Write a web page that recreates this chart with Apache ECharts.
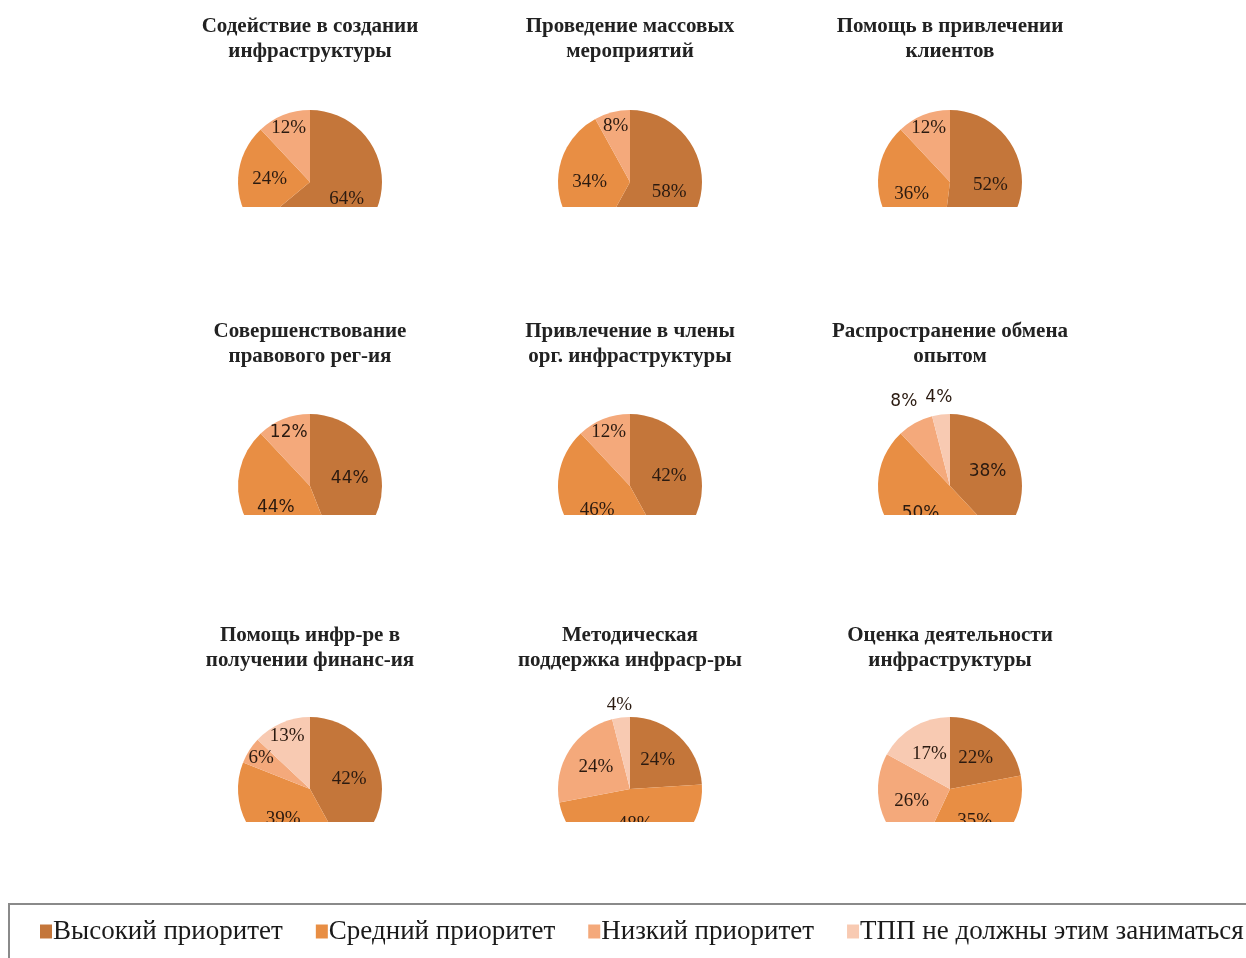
<!DOCTYPE html>
<html><head><meta charset="utf-8">
<script src="https://cdn.jsdelivr.net/npm/echarts@6/dist/echarts.min.js"></script>
<style>html,body{margin:0;padding:0;background:#fff}#c{width:1246px;height:958px}</style>
</head><body><div id="c"></div>
<script>
const categories = ['Высокий приоритет','Средний приоритет','Низкий приоритет','ТПП не должны этим заниматься'];
const titles = [
  'Содействие в создании\nинфраструктуры',
  'Проведение массовых\nмероприятий',
  'Помощь в привлечении\nклиентов',
  'Совершенствование\nправового рег-ия',
  'Привлечение в члены\nорг. инфраструктуры',
  'Распространение обмена\nопытом',
  'Помощь инфр-ре в\nполучении финанс-ия',
  'Методическая\nподдержка инфрасchallenge'.replace('challenge', 'р-ры'),
  'Оценка деятельности\nинфраструктуры'
];
const high   = [64, 58, 52, 44, 42, 38, 42, 24, 22];
const medium = [24, 34, 36, 44, 46, 50, 39, 48, 35];
const low    = [12,  8, 12, 12, 12,  8,  6, 24, 26];
const tpp    = [ 0,  0,  0,  0,  0,  4, 13,  4, 17];

const colors = ['#C4763A', '#E88E44', '#F4A97B', '#F8CAB2'];
const colX = [310, 630, 950];
const rowY = [182, 486, 789];
const clipY = [207, 515, 822];
const titleTop = [14, 319, 623];
const R = 72;
const outsideLabels = {5: {2: 1.29, 3: 1.2}, 7: {3: 1.13}};
const sansCharts = [3, 5];

const series = [], titleList = [];
const allVals = [high, medium, low, tpp];
for (let i = 0; i < 9; i++) {
  const cx = colX[i % 3], cy = rowY[Math.floor(i / 3)];
  const total = allVals.reduce((s, a) => s + a[i], 0);
  let cum = 0;
  const data = [];
  allVals.forEach((arr, k) => {
    const v = arr[i];
    if (!v) return;
    const th = 2 * Math.PI * (cum + v / 2) / total;
    cum += v;
    const dx = Math.sin(th), dy = -Math.cos(th);
    const outMap = outsideLabels[i] || {};
    let rr = v >= 15 ? 0.52 * R : 0.76 * R;
    if (outMap[k]) rr = outMap[k] * R;
    let px = rr * dx, py = rr * dy;
    if (py > 0.45 * R) py = 0.45 * R;
    data.push({
      name: categories[k], value: v,
      itemStyle: {color: colors[k]},
      label: {offset: [px - R / 2 * dx, py - R / 2 * dy]}
    });
  });
  const sans = sansCharts.indexOf(i) >= 0;
  series.push({
    type: 'pie', name: titles[i], center: [cx, cy], radius: R,
    startAngle: 90, clockwise: true, animation: false,
    silent: true,
    label: {show: true, position: 'inside', formatter: '{c}%',
      fontFamily: sans ? 'DejaVu Sans' : 'Liberation Serif',
      fontSize: sans ? 17 : 19, color: '#2a1a10'},
    labelLine: {show: false},
    itemStyle: {borderWidth: 0},
    emphasis: {disabled: true},
    data: data
  });
  titleList.push({
    text: titles[i], left: cx, top: titleTop[Math.floor(i / 3)], textAlign: 'center', padding: 0,
    textStyle: {fontFamily: 'Liberation Serif', fontWeight: 'bold', fontSize: 21,
      color: '#222', lineHeight: 25}
  });
}

const graphics = clipY.map((y, j) => ({
  type: 'rect', z: 100, shape: {x: 0, y: y, width: 1246, height: j === 2 ? 80 : 100},
  style: {fill: '#fff'}
}));
graphics.push({type: 'rect', z: 100, shape: {x: 9, y: 904, width: 1260, height: 70},
  style: {fill: 'none', stroke: '#8a8a8a', lineWidth: 2}});

const chart = echarts.init(document.getElementById('c'));
chart.setOption({
  backgroundColor: '#fff',
  title: titleList,
  legend: {
    data: categories, left: 40, top: 918, itemWidth: 12, itemHeight: 14, itemGap: 33,
    icon: 'rect', selectedMode: false, padding: 0,
    textStyle: {fontFamily: 'Liberation Serif', fontSize: 27, color: '#1a1a1a', padding: [0, 0, 0, -4]}
  },
  graphic: graphics,
  series: series
});
</script></body></html>
